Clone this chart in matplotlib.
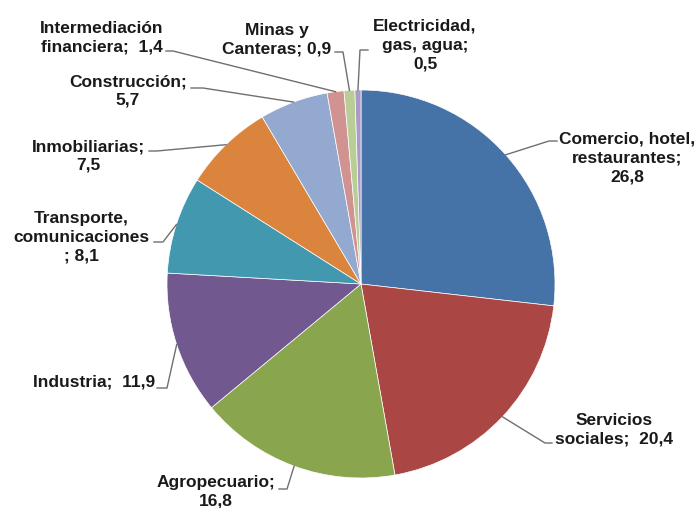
import numpy as np
from matplotlib import pyplot as plt

# sector shares (%)
sectors = ['Comercio, hotel,\nrestaurantes;\n26,8', 'Servicios\nsociales;  20,4',
           'Agropecuario;\n16,8', 'Industria;  11,9',
           'Transporte,\ncomunicaciones\n; 8,1', 'Inmobiliarias;\n7,5',
           'Construcción;\n5,7', 'Intermediación\nfinanciera;  1,4',
           'Minas y\nCanteras; 0,9', 'Electricidad,\ngas, agua;\n0,5']
shares = [26.8, 20.4, 16.8, 11.9, 8.1, 7.5, 5.7, 1.4, 0.9, 0.5]
colours = ['#4572A7', '#AA4643', '#89A54E', '#71588F', '#4198AF',
           '#DB843D', '#93A9CF', '#D19392', '#B9CD96', '#A99BC8']

# label layout in pixels: text centre, leader start, leader elbow
label_pos = [(627, 158), (614, 430), (216, 492), (94, 382), (81, 237),
             (88, 156), (128, 91), (102, 38), (277, 40), (425, 45)]
leader_start = [(557, 141), (552, 443), (279, 489), (157, 388), (154, 242),
                (149, 151), (191, 88), (166, 51), (335, 52), (368, 50)]
leader_elbow = [(549, 141), (545, 443), (287, 489), (167, 388), (163, 242),
                (157, 151), (203, 88), (173, 51), (343, 52), (360, 50)]

W, H = 697, 508
cx, cy, R = 361, 284, 194


# pixel position -> data coords of the pie axes
def px2data(p):
    return (p[0] - cx) / R, (cy - p[1]) / R


fig = plt.figure(figsize=(W / 100, H / 100), dpi=100)
ax = fig.add_axes([(cx - R) / W, (H - cy - R) / H, 2 * R / W, 2 * R / H])
wedges, _ = ax.pie(shares, colors=colours, startangle=90, counterclock=False,
                   radius=1, wedgeprops=dict(edgecolor='white', linewidth=0.5))
ax.set_xlim(-1, 1)
ax.set_ylim(-1, 1)
ax.set_aspect('equal')
ax.axis('off')

for w, lab, tp, ls, le in zip(wedges, sectors, label_pos, leader_start, leader_elbow):
    mid = np.deg2rad((w.theta1 + w.theta2) / 2)
    ex, ey = np.cos(mid), np.sin(mid)
    x0, y0 = px2data(ls)
    x1, y1 = px2data(le)
    ax.plot([x0, x1, ex], [y0, y1, ey], color='#6f6f6f', lw=1.0, clip_on=False)
    tx, ty = px2data(tp)
    ax.text(tx, ty, lab, ha='center', va='center', multialignment='center',
            fontsize=12.5, fontweight='bold', family='Liberation Sans',
            color='#1a1a1a', linespacing=1.3, clip_on=False)

fig.savefig('out.png', dpi=100)
